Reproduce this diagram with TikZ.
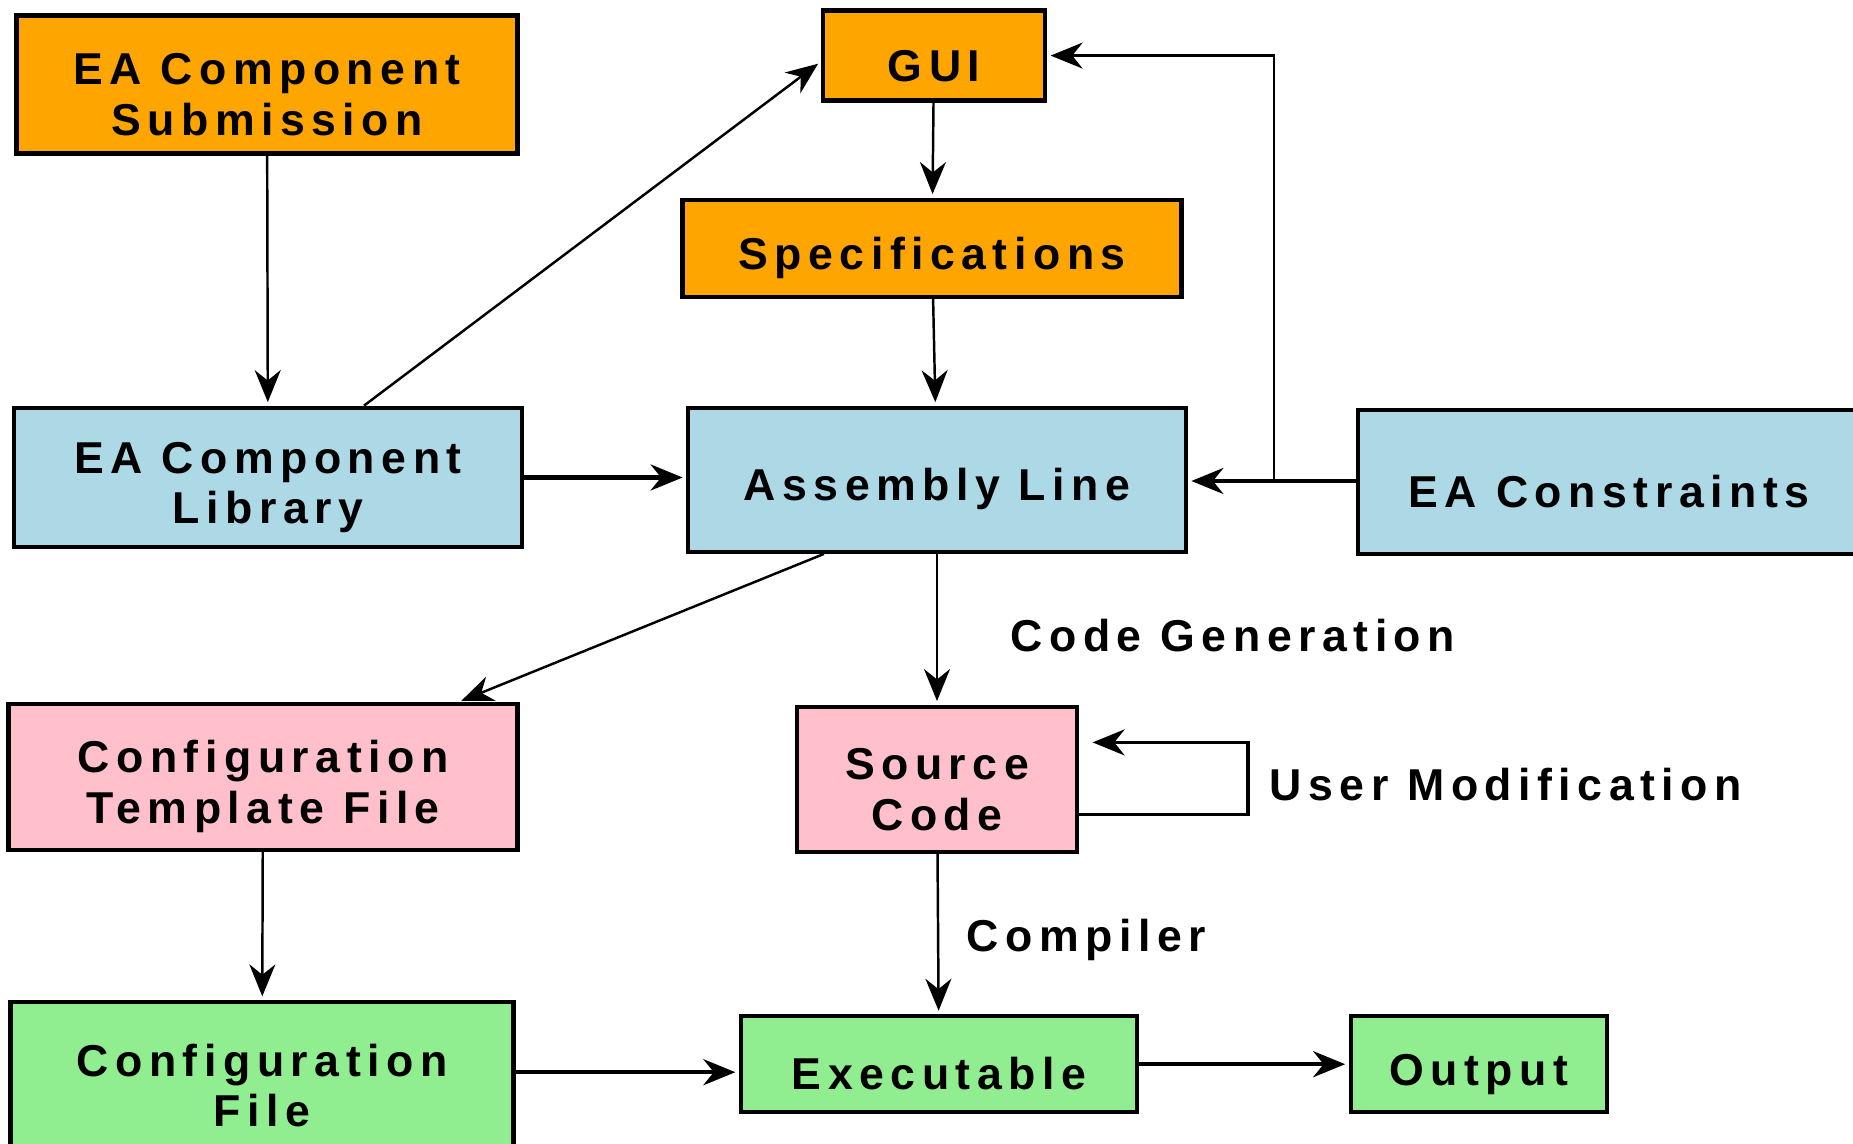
\documentclass[tikz,border=0pt]{standalone}
\usepackage{fontspec}
\setmainfont[LetterSpace=14.6]{Liberation Sans}
\usepackage{tikz}
\usetikzlibrary{positioning, arrows.meta, calc}

\definecolor{eaorange}{HTML}{FFA500}
\definecolor{eablue}{HTML}{ADD8E6}
\definecolor{eapink}{HTML}{FFC0CB}
\definecolor{eagreen}{HTML}{90EE90}

\begin{document}
\begin{tikzpicture}[
  >={Stealth[length=0.32cm, width=0.26cm]},
  every node/.style={font=\fontsize{12.7}{14.4}\selectfont\bfseries},
  box/.style={draw, line width=1.2pt, align=center, inner sep=0pt, text height=14.6pt},
  twoline/.style={text height=29pt},
  inbox/.style={box, fill=eaorange},
  corebox/.style={box, fill=eablue},
  genbox/.style={box, fill=eapink},
  runbox/.style={box, fill=eagreen},
  flow/.style={->, line width=0.7pt, shorten >=1pt},
  heavy/.style={->, line width=1.2pt, shorten >=1pt},
  lbl/.style={anchor=west, inner sep=0pt}
]
\useasboundingbox (0,0) rectangle (18.53,-11.44);
\clip (0,0) rectangle (18.53,-11.44);

% Top: submission, GUI, specifications
\node[inbox, twoline, minimum width=5.01cm, minimum height=1.38cm] (sub) at (2.67,-0.845) {EA Component\\Submission};
\node[inbox, minimum width=2.22cm, minimum height=0.9cm] (gui) at (9.34,-0.556) {GUI};
\node[inbox, minimum width=4.99cm, minimum height=0.97cm] (spec) at (9.32,-2.482) {Specifications};

% Middle row
\node[corebox, twoline, minimum width=5.08cm, minimum height=1.395cm] (lib) at (2.68,-4.775) {EA Component\\Library};
\node[corebox, minimum width=4.975cm, minimum height=1.44cm] (asm) at (9.37,-4.798) {Assembly Line};
\node[corebox, minimum width=5.02cm, minimum height=1.443cm] (cons) at (16.09,-4.822) {EA Constraints};

% Generated files
\node[genbox, twoline, minimum width=5.09cm, minimum height=1.454cm] (tmpl) at (2.63,-7.77) {Configuration\\Template File};
\node[genbox, twoline, minimum width=2.8cm, minimum height=1.454cm] (src) at (9.37,-7.794) {Source\\Code};

% Bottom row
\node[runbox, twoline, minimum width=5.03cm, minimum height=1.48cm] (cfg) at (2.62,-10.76) {Configuration\\File};
\node[runbox, minimum width=3.96cm, minimum height=0.957cm] (exe) at (9.39,-10.642) {Executable};
\node[runbox, minimum width=2.564cm, minimum height=0.957cm] (out) at (14.79,-10.642) {Output};

% Labels
\node[lbl] (codegen) at (10.1,-6.36) {Code Generation};
\node[lbl] (usermod) at (12.69,-7.85) {User Modification};
\node[lbl] (comp) at (9.66,-9.40) {Compiler};

% Helper points
\coordinate (junc) at ($(asm.east)!0.5!(cons.west)+(0.02,0)$);
\coordinate (loopr) at (12.48,-7.794);

% Arrows
\draw[flow] (sub) -- (lib);
\draw[flow] ([xshift=0.96cm]lib.north) -- ([yshift=-0.06cm]gui.west);
\draw[flow] (gui) -- (spec);
\draw[flow] (spec) -- (asm);
\draw[heavy] (lib.east) -- (lib.east -| asm.west);
\draw[heavy] (cons.west |- junc) -- (asm.east |- junc);
\draw[flow] (junc) |- (gui.east);
\draw[flow] ([xshift=-1.13cm]asm.south) -- ([xshift=1.95cm]tmpl.north);
\draw[flow] (asm) -- (src);
\draw[heavy, line width=1pt] ([yshift=-0.35cm]src.east) -- ([yshift=-0.35cm]src.east -| loopr) |- ([yshift=0.37cm, xshift=0.1cm]src.east);
\draw[flow] (src) -- (exe);
\draw[flow] (tmpl) -- (cfg);
\draw[heavy] ([yshift=-0.08cm]exe.west -| cfg.east) -- ([yshift=-0.08cm]exe.west);
\draw[heavy] (exe) -- (out);

\end{tikzpicture}
\end{document}
